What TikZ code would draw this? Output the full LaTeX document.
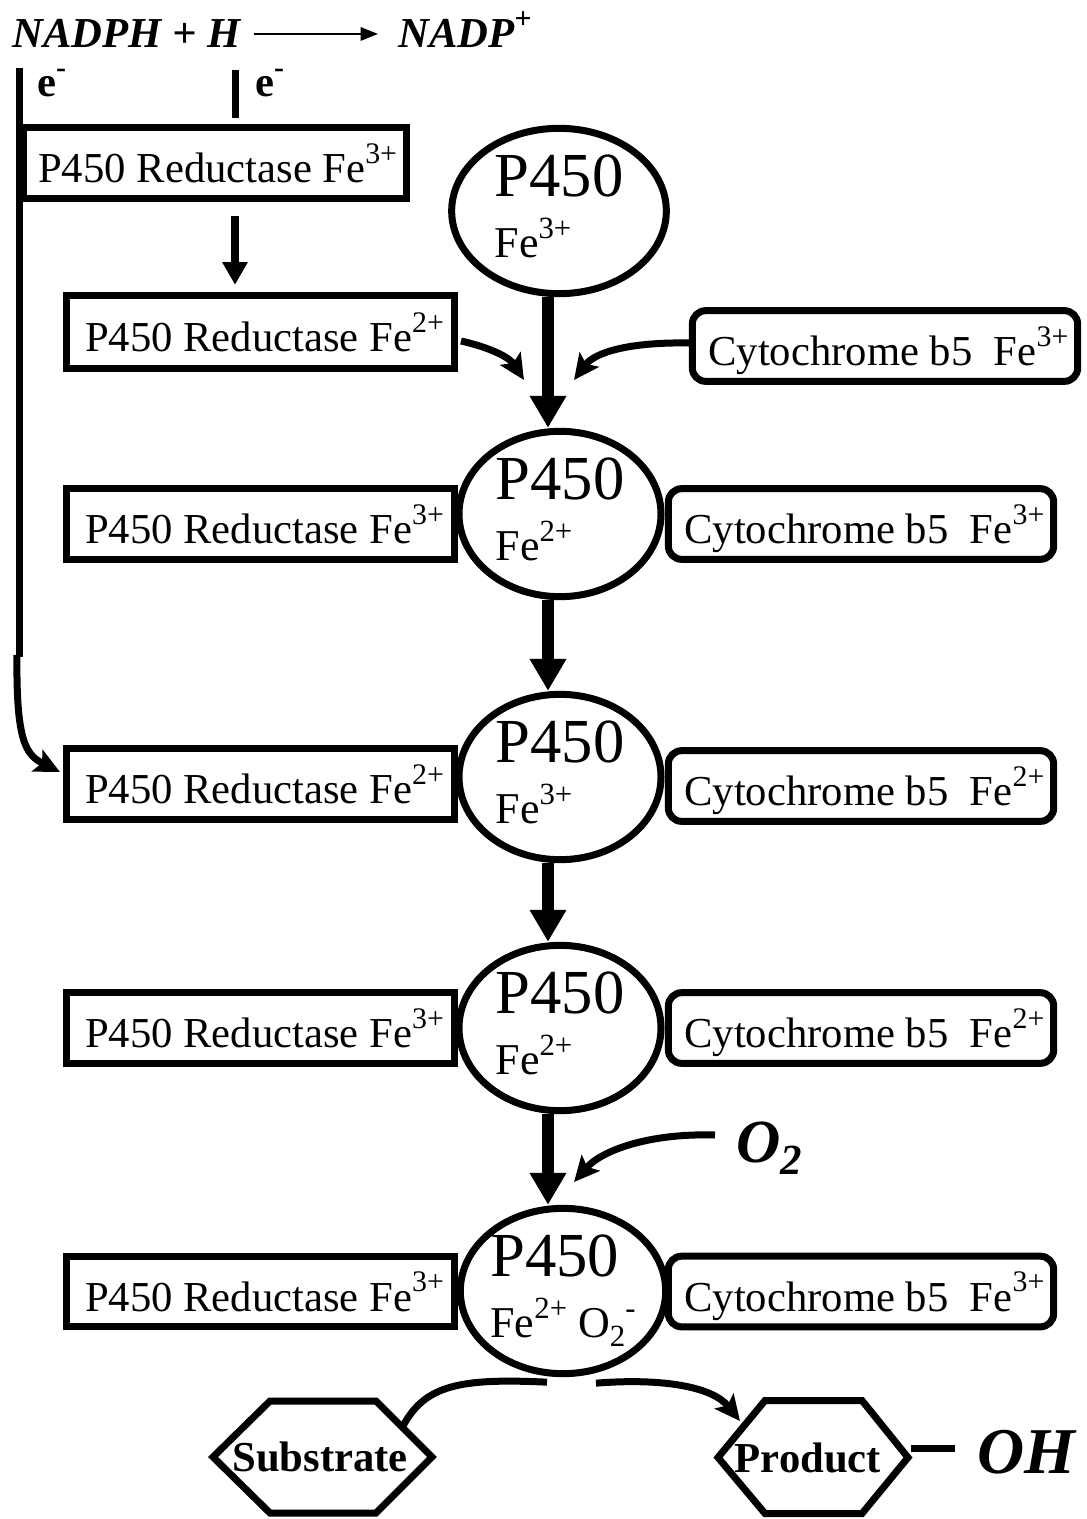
\documentclass[tikz,border=0pt]{standalone}
\usepackage{fontspec}
\setmainfont{Liberation Serif}
\usetikzlibrary{arrows.meta,shapes.geometric,calc}
\newcommand{\up}[1]{\raisebox{0.45em}{\scalebox{0.7}{#1}}}
\newcommand{\dn}[1]{\raisebox{-0.2em}{\scalebox{0.7}{#1}}}
\tikzset{
  redbox/.style={draw, line width=5.25pt, minimum width=291pt, minimum height=53pt, inner sep=0pt, text depth=0pt, font=\fontsize{32}{38}\selectfont},
  cytbox/.style={draw, line width=5.25pt, rounded corners=10pt, minimum width=289pt, minimum height=53pt, inner sep=0pt, text depth=0pt, font=\fontsize{32}{38}\selectfont},
  enz/.style={draw, ellipse, fill=white, line width=5.25pt, minimum width=151.5pt, minimum height=124pt, inner sep=0pt, align=left, text depth=7pt, font=\fontsize{33}{46}\selectfont},
  mainarrow/.style={line width=9pt, -{Triangle[width=26pt,length=24pt]}},
  medarrow/.style={line width=6pt, -{Triangle[width=18pt,length=17pt]}},
  curvearrow/.style={line width=5.25pt, -{Stealth[width=18pt,length=19pt,inset=4pt]}},
  wire/.style={line width=5.25pt},
  hexa/.style={line width=5.25pt},
  bi/.style={inner sep=0pt, font=\bfseries\itshape\fontsize{32}{38}\selectfont},
  ebl/.style={inner sep=0pt, anchor=base west, font=\bfseries\fontsize{32}{38}\selectfont},
  hexlbl/.style={inner sep=0pt, font=\bfseries\fontsize{32}{38}\selectfont},
}
\begin{document}
\begin{tikzpicture}[x=0.75pt,y=-0.75pt]
\fill[white] (0,0) rectangle (1086,1519);
\useasboundingbox (0,0) rectangle (1086,1519);

% title
\node[bi, anchor=base west] (nadph) at (12,48) {NADPH + H};
\node[bi, anchor=base west] (nadp) at (398,48) {NADP\up{+}};
\draw[line width=1.5pt, -{Triangle[width=10pt,length=13pt]}] ($(nadph.east)+(13,0)$) -- ($(nadp.west |- nadph.east)+(-20,0)$);

% electrons
\node[ebl] (e1) at (37,97) {e\up{-}};
\node[ebl] (e2) at (255,97) {e\up{-}};

% boxes
\node[redbox, minimum width=287pt] (r1) at (215,163) {\hspace*{4pt}P450 Reductase Fe\up{3+}};
\node[redbox, minimum height=55pt] (r2) at (260.5,332) {\hspace*{6pt}P450 Reductase Fe\up{2+}};
\node[cytbox] (c1) at (885,346) {\hspace*{5pt}Cytochrome b5~ Fe\up{3+}};

\node[redbox] (r3) at (260.5,524) {\hspace*{6pt}P450 Reductase Fe\up{3+}};
\node[cytbox] (c3) at (861,524) {\hspace*{5pt}Cytochrome b5~ Fe\up{3+}};

\node[redbox] (r4) at (260.5,784) {\hspace*{6pt}P450 Reductase Fe\up{2+}};
\node[cytbox] (c4) at (861,786) {\hspace*{5pt}Cytochrome b5~ Fe\up{2+}};

\node[redbox] (r5) at (260.5,1028) {\hspace*{6pt}P450 Reductase Fe\up{3+}};
\node[cytbox] (c5) at (861,1028) {\hspace*{5pt}Cytochrome b5~ Fe\up{2+}};

\node[redbox] (r6) at (260.5,1291.5) {\hspace*{6pt}P450 Reductase Fe\up{3+}};
\node[cytbox] (c6) at (861,1291.5) {\hspace*{5pt}Cytochrome b5~ Fe\up{3+}};

% enzyme ellipses
\node[enz, minimum width=161pt] (E1) at (559,211) {{\fontsize{47}{46}\selectfont P450}\\Fe\up{3+}};
\node[enz] (E2) at (560,514) {{\fontsize{47}{46}\selectfont P450}\\Fe\up{2+}};
\node[enz] (E3) at (560,777) {{\fontsize{47}{46}\selectfont P450}\\Fe\up{3+}};
\node[enz] (E4) at (560,1028) {{\fontsize{47}{46}\selectfont P450}\\Fe\up{2+}};
\node[enz] (E5) at (563,1291) {{\fontsize{47}{46}\selectfont P450}\\Fe\up{2+} O\dn{2}\up{-}};

% electron lines
\coordinate (ltop) at (19,68);
\coordinate (lmid) at (19,657);
\coordinate (l2) at (17,655);
\draw[wire] (ltop) -- (lmid);
\draw[curvearrow] (l2) .. controls (16,742) and (26,755) .. ($(r4.west)+(-3,-12)$);
\coordinate (stop) at (235,70);
\coordinate (sbot) at (235,118);
\draw[wire] (stop) -- (sbot);
\draw[medarrow] ($(r1.south -| stop)+(0,14)$) -- ($(r2.north -| stop)+(0,-7)$);

% main flow
\coordinate (ax) at (548,0);
\draw[mainarrow] (E1.south -| ax) -- (E2.north -| ax);
\draw[mainarrow] (E2.south -| ax) -- (E3.north -| ax);
\draw[mainarrow] (E3.south -| ax) -- (E4.north -| ax);
\draw[mainarrow] (E4.south -| ax) -- (E5.north -| ax);

% side inputs
\coordinate (t1) at (524,380);
\coordinate (t2) at (574,380);
\draw[curvearrow] ($(r2.east)+(3,9)$) .. controls (492,348) and (510,358) .. (t1);
\draw[curvearrow] ($(c1.west)+(0,-3)$) .. controls (630,342) and (595,352) .. (t2);

% oxygen
\node[inner sep=0pt, anchor=base west, font=\bfseries\itshape\fontsize{46}{52}\selectfont] (o2) at (736,1162) {O\raisebox{-0.2em}{\scalebox{0.7}{2}}};
\coordinate (os) at (715,1135);
\coordinate (ot) at (574,1182);
\draw[curvearrow] (os) .. controls (650,1133) and (602,1150) .. (ot);

% substrate / product
\node[hexlbl] (sub) at (320,1457) {Substrate};
\draw[hexa] (sub.center) ++(-107,0) -- ++(57,-56) -- ++(106,0) -- ++(56,56) -- ++(-56,56) -- ++(-106,0) -- cycle;
\node[hexlbl] (prod) at (808,1457.5) {Product};
\draw[hexa] (prod.center) ++(-90,0) -- ++(47,-57) -- ++(97,0) -- ++(46,57) -- ++(-46,56) -- ++(-97,0) -- cycle;

\coordinate (sa) at (403,1426);
\coordinate (pa) at (740,1421);
\draw[wire] (sa) .. controls (425,1385) and (460,1378) .. ($(E5.south)+(-16,5)$);
\draw[curvearrow] ($(E5.south)+(33,6)$) .. controls (660,1378) and (712,1386) .. (pa);

\coordinate (pe) at (911,1448);
\coordinate (ohl) at (955,1448);
\draw[wire] (pe) -- (ohl);
\node[inner sep=0pt, anchor=base west, font=\bfseries\itshape\fontsize{49}{56}\selectfont] (oh) at (977,1473) {OH};
\end{tikzpicture}
\end{document}
